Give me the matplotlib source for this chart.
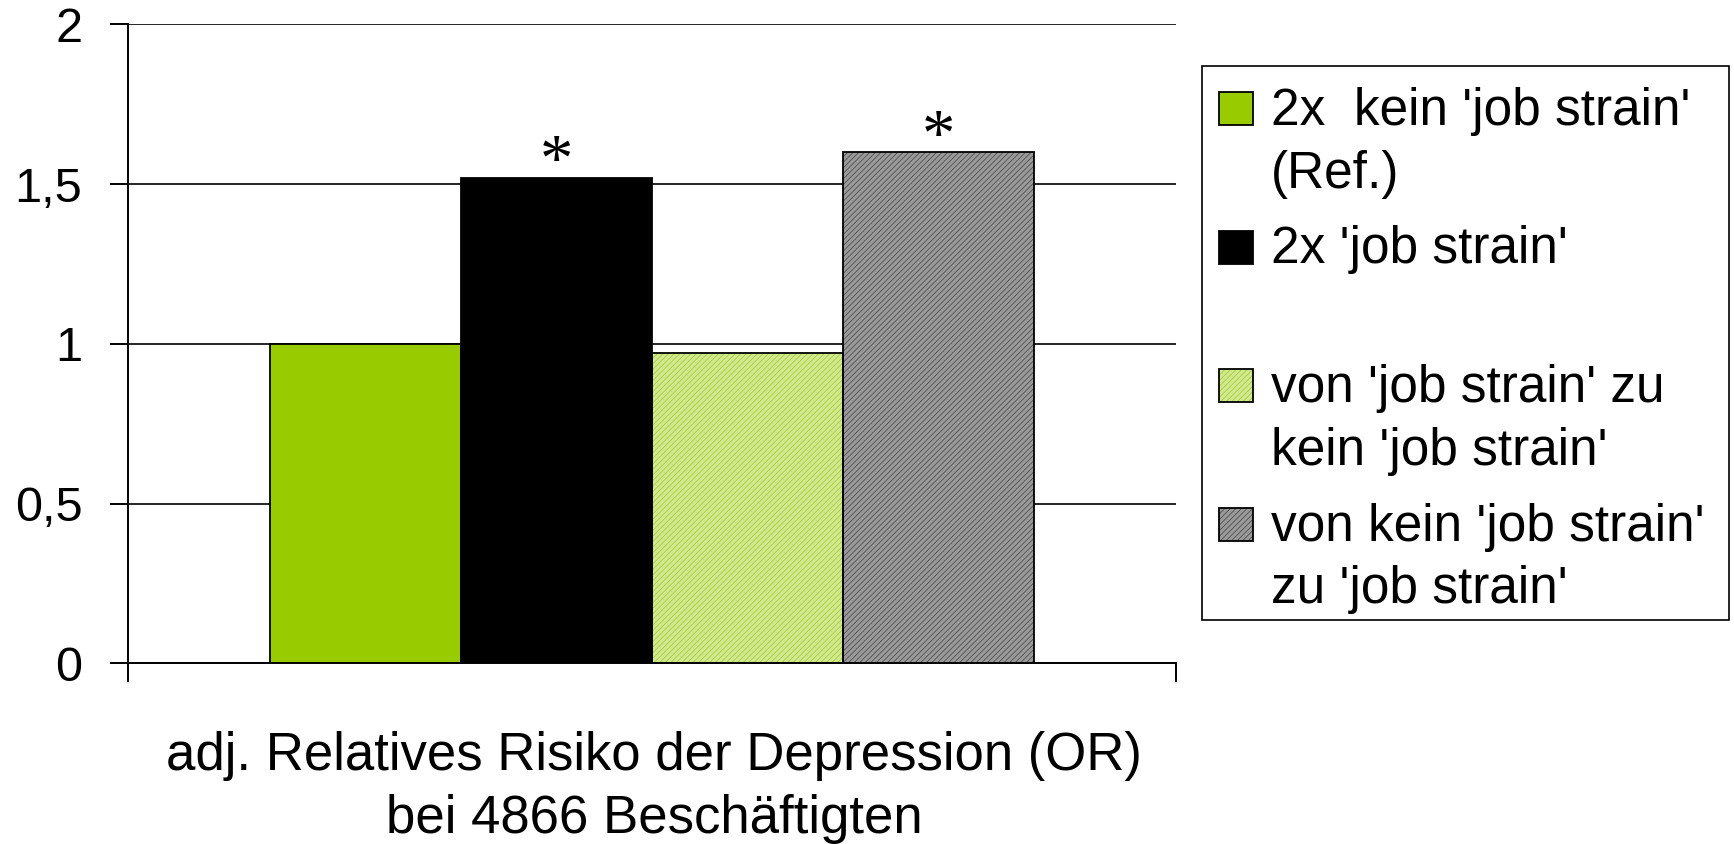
import matplotlib.pyplot as plt
from matplotlib.patches import Rectangle

# data
group_labels = ["2x  kein 'job strain'\n(Ref.)",
                "2x 'job strain'",
                "von 'job strain' zu\nkein 'job strain'",
                "von kein 'job strain'\nzu 'job strain'"]
odds_ratio = [1.0, 1.52, 0.97, 1.60]
significant = [False, True, False, True]
y_ticks = [0, 0.5, 1, 1.5, 2]
y_tick_labels = ["0", "0,5", "1", "1,5", "2"]
x_title = "adj. Relatives Risiko der Depression (OR)\nbei 4866 Beschäftigten"

# styles: fine diagonal pattern fills like the original
face_colors = ['#99cc00', 'black', '#d2e899', '#9a9a9a']
hatch_colors = ['#99cc00', 'black', '#a6d21a', '#505050']
hatches = [None, None, '//////', '//////']

plt.rcParams['font.family'] = 'Liberation Sans'
plt.rcParams['hatch.linewidth'] = 0.6

W, H = 1734, 844
fig = plt.figure(figsize=(W / 100, H / 100), dpi=100)
ax = fig.add_axes([128.3 / W, 1 - 663.3 / H, 1047.2 / W, 639.0 / H])

width = 0.1824
n = len(odds_ratio)
xpos = [(i - (n - 1) / 2) * width for i in range(n)]

for i in range(n):
    ax.bar(xpos[i], odds_ratio[i], width, color=face_colors[i],
           edgecolor=hatch_colors[i], hatch=hatches[i], linewidth=0, zorder=2)
    ax.bar(xpos[i], odds_ratio[i], width, fill=False,
           edgecolor='black', linewidth=1.3, zorder=3)
    if significant[i]:
        ax.annotate('*', (xpos[i], odds_ratio[i]), xytext=(0, -2),
                    textcoords='offset points', ha='center', va='baseline',
                    fontsize=48, family='Liberation Serif')

ax.set_xlim(-0.5, 0.5)
ax.set_ylim(0, 2)
ax.set_yticks(y_ticks)
ax.set_yticklabels(y_tick_labels, fontsize=35)
ax.set_xticks([-0.5, 0.5])
ax.set_xticklabels([])
ax.tick_params(axis='y', direction='out', length=13, width=1.4, pad=20)
ax.tick_params(axis='x', direction='out', length=14, width=1.4)
ax.yaxis.grid(True, color='black', linewidth=1.2)
ax.set_axisbelow(True)
for s in ['top', 'right']:
    ax.spines[s].set_visible(False)
for s in ['left', 'bottom']:
    ax.spines[s].set_linewidth(1.4)
    ax.spines[s].set_zorder(4)

# axis title under the plot
fig.text(654 / W, 1 - 770 / H, x_title.split('\n')[0], ha='center',
         va='baseline', fontsize=38)
fig.text(654 / W, 1 - 833 / H, x_title.split('\n')[1], ha='center',
         va='baseline', fontsize=38)

# legend, drawn by hand to match the original layout
fig.patches.append(Rectangle((1202 / W, 1 - 620 / H), 527 / W, 554 / H,
                             transform=fig.transFigure, fill=False,
                             edgecolor='black', linewidth=1.2))
for i in range(n):
    base = 125 + 138.5 * i
    fig.patches.append(Rectangle((1219 / W, 1 - base / H), 34 / W, 33 / H,
                                 transform=fig.transFigure,
                                 facecolor=face_colors[i],
                                 edgecolor=hatch_colors[i],
                                 hatch=hatches[i], linewidth=0))
    fig.patches.append(Rectangle((1219 / W, 1 - base / H), 34 / W, 33 / H,
                                 transform=fig.transFigure, fill=False,
                                 edgecolor='black', linewidth=1.3))
    for j, line in enumerate(group_labels[i].split('\n')):
        fig.text(1271 / W, 1 - (base + 63 * j) / H, line, ha='left',
                 va='baseline', fontsize=37)

fig.savefig('out.png', dpi=100)
